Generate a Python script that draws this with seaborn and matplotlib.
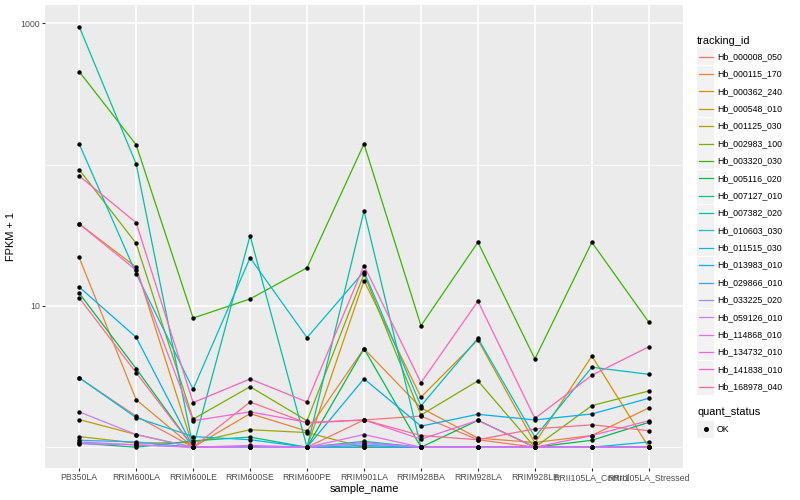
import pandas as pd
import seaborn as sns
import matplotlib.pyplot as plt
from matplotlib.patches import Rectangle
from matplotlib.lines import Line2D
from matplotlib.ticker import NullFormatter

SAMPLES = ["PB350LA", "RRIM600LA", "RRIM600LE", "RRIM600SE", "RRIM600PE", "RRIM901LA",
           "RRIM928BA", "RRIM928LA", "RRIM928LE", "RRII105LA_Control", "RRII105LA_Stressed"]

# FPKM + 1 per gene, one value per sample
HB_000008_050 = [3.1, 1.66, 1.0, 1.0, 1.0, 1.56, 1.66, 1.13, 1.0, 1.0, 1.0]
HB_000115_170 = [22, 2.17, 1.0, 1.73, 1.30, 4.98, 1.9, 1.16, 1.08, 1.21, 1.90]
HB_000362_240 = [38, 18.8, 1.0, 1.0, 1.0, 15.1, 2.26, 5.75, 1.07, 4.42, 1.0]
HB_000548_010 = [1.57, 1.23, 1.0, 1.0, 1.0, 1.0, 1.0, 1.0, 1.0, 1.0, 1.0]
HB_001125_030 = [1.19, 1.07, 1.08, 1.33, 1.27, 1.0, 1.0, 1.0, 1.0, 1.0, 1.0]
HB_002983_100 = [92, 27.7, 1.58, 2.68, 1.54, 16.8, 1.69, 2.95, 1.0, 1.97, 2.50]
HB_003320_030 = [455, 138, 8.2, 11.2, 18.6, 140, 7.24, 28.2, 4.21, 28.2, 7.66]
HB_005116_020 = [12.3, 3.6, 1.0, 1.0, 1.0, 4.98, 1.0, 1.55, 1.0, 1.12, 1.50]
HB_007127_010 = [1.07, 1.0, 1.11, 1.18, 1.0, 1.1, 1.0, 1.0, 1.0, 1.0, 1.0]
HB_007382_020 = [946, 101, 1.0, 31.4, 1.0, 47, 1.0, 1.0, 1.0, 1.0, 1.0]
HB_010603_030 = [140, 16.9, 2.57, 21.9, 5.96, 17.5, 1.96, 5.9, 1.18, 3.68, 3.28]
HB_011515_030 = [3.1, 1.62, 1.19, 1.13, 1.0, 1.0, 1.0, 1.0, 1.0, 1.0, 1.09]
HB_013983_010 = [13.6, 6.0, 1.0, 1.0, 1.0, 3.05, 1.41, 1.71, 1.56, 1.72, 2.22]
HB_029866_010 = [1.12, 1.09, 1.0, 1.0, 1.0, 1.03, 1.0, 1.0, 1.0, 1.0, 1.0]
HB_033225_020 = [1.09, 1.04, 1.0, 1.0, 1.0, 1.06, 1.0, 1.0, 1.0, 1.0, 1.0]
HB_059126_010 = [1.78, 1.23, 1.0, 1.0, 1.0, 1.08, 1.0, 1.0, 1.0, 1.0, 1.0]
HB_114868_010 = [1.06, 1.04, 1.0, 1.03, 1.0, 1.23, 1.0, 1.0, 1.0, 1.0, 1.0]
HB_134732_010 = [38, 17.9, 1.54, 1.78, 1.50, 1.56, 1.14, 1.55, 1.0, 1.21, 1.54]
HB_141838_010 = [83, 38.8, 2.07, 3.04, 2.09, 19.3, 2.86, 10.8, 1.60, 3.23, 5.14]
HB_168978_040 = [11.4, 3.37, 1.0, 2.09, 1.48, 1.56, 1.21, 1.13, 1.35, 1.44, 1.31]

TRACKING_IDS = ["Hb_000008_050", "Hb_000115_170", "Hb_000362_240", "Hb_000548_010",
                "Hb_001125_030", "Hb_002983_100", "Hb_003320_030", "Hb_005116_020",
                "Hb_007127_010", "Hb_007382_020", "Hb_010603_030", "Hb_011515_030",
                "Hb_013983_010", "Hb_029866_010", "Hb_033225_020", "Hb_059126_010",
                "Hb_114868_010", "Hb_134732_010", "Hb_141838_010", "Hb_168978_040"]
SERIES = [HB_000008_050, HB_000115_170, HB_000362_240, HB_000548_010, HB_001125_030,
          HB_002983_100, HB_003320_030, HB_005116_020, HB_007127_010, HB_007382_020,
          HB_010603_030, HB_011515_030, HB_013983_010, HB_029866_010, HB_033225_020,
          HB_059126_010, HB_114868_010, HB_134732_010, HB_141838_010, HB_168978_040]

# ggplot2 default hue palette for 20 levels
PALETTE = ["#F8766D", "#EA8331", "#D89000", "#C09B00", "#A3A500", "#7CAE00", "#39B600",
           "#00BB4E", "#00BF7D", "#00C1A3", "#00BFC4", "#00BAE0", "#00B0F6", "#35A2FF",
           "#9590FF", "#C77CFF", "#E76BF3", "#FA62DB", "#FF62BC", "#FF6C91"]

rows = []
for tid, vals in zip(TRACKING_IDS, SERIES):
    for s, v in zip(SAMPLES, vals):
        rows.append({"tracking_id": tid, "sample_name": s, "fpkm1": v, "quant_status": "OK"})
DF = pd.DataFrame(rows)

FONT = "Liberation Sans"
plt.rcParams["font.family"] = [FONT, "DejaVu Sans"]

W, H = 800, 500
fig = plt.figure(figsize=(8, 5), dpi=100)
fig.patch.set_facecolor("white")
ax = fig.add_axes([45 / W, 1 - 468 / H, (683 - 45) / W, (468 - 5) / H])
ax.set_facecolor("#EBEBEB")
for sp in ax.spines.values():
    sp.set_visible(False)

sns.lineplot(data=DF, x="sample_name", y="fpkm1", hue="tracking_id", hue_order=TRACKING_IDS,
             palette=PALETTE, estimator=None, sort=False, linewidth=0.9, legend=False, ax=ax)
sns.scatterplot(data=DF, x="sample_name", y="fpkm1", color="black", s=10, linewidth=0,
                legend=False, ax=ax, zorder=5)

ax.set_yscale("log")
ax.set_ylim(0.713, 1345)
ax.set_xlim(-0.6, len(SAMPLES) - 0.4)
ax.set_yticks([10, 1000])
ax.set_yticklabels(["10", "1000"])
ax.set_yticks([1, 100], minor=True)
ax.yaxis.set_minor_formatter(NullFormatter())
ax.set_xticks(range(len(SAMPLES)))
ax.set_xticklabels(SAMPLES)
ax.set_axisbelow(True)
ax.grid(which="major", color="white", linewidth=1.1)
ax.grid(which="minor", axis="y", color="white", linewidth=0.55)
ax.tick_params(which="major", length=2.2, width=0.8, color="#333333", labelcolor="#4D4D4D",
               labelsize=6.3, pad=1.2)
ax.tick_params(which="minor", length=0)
ax.set_xlabel("sample_name", fontsize=7.9, labelpad=1.5)
ax.set_ylabel("FPKM + 1", fontsize=7.9, labelpad=3)


def fx(px):
    return px / W


def fy(py):
    return 1 - py / H


# legend: tracking_id
fig.text(fx(697), fy(41), "tracking_id", fontsize=7.9, va="center", ha="left")
for i, (tid, col) in enumerate(zip(TRACKING_IDS, PALETTE)):
    cy = 56.7 + i * 17.37
    fig.add_artist(Rectangle((fx(697), fy(cy + 8.5)), 17 / W, 17 / H,
                             transform=fig.transFigure, facecolor="#F2F2F2", edgecolor="none"))
    fig.add_artist(Line2D([fx(699), fx(712.5)], [fy(cy), fy(cy)], transform=fig.transFigure,
                          color=col, linewidth=0.9))
    fig.text(fx(717), fy(cy), tid, fontsize=6.3, va="center", ha="left")

# legend: quant_status
fig.text(fx(697), fy(411.7), "quant_status", fontsize=7.9, va="center", ha="left")
fig.add_artist(Rectangle((fx(697), fy(429 + 8.5)), 17 / W, 17 / H,
                         transform=fig.transFigure, facecolor="#F2F2F2", edgecolor="none"))
fig.add_artist(Line2D([fx(705.5)], [fy(429)], transform=fig.transFigure, marker="o",
                      markersize=2.6, color="black", linestyle="none"))
fig.text(fx(717), fy(429), "OK", fontsize=6.3, va="center", ha="left")

fig.savefig("out.png", dpi=100)
